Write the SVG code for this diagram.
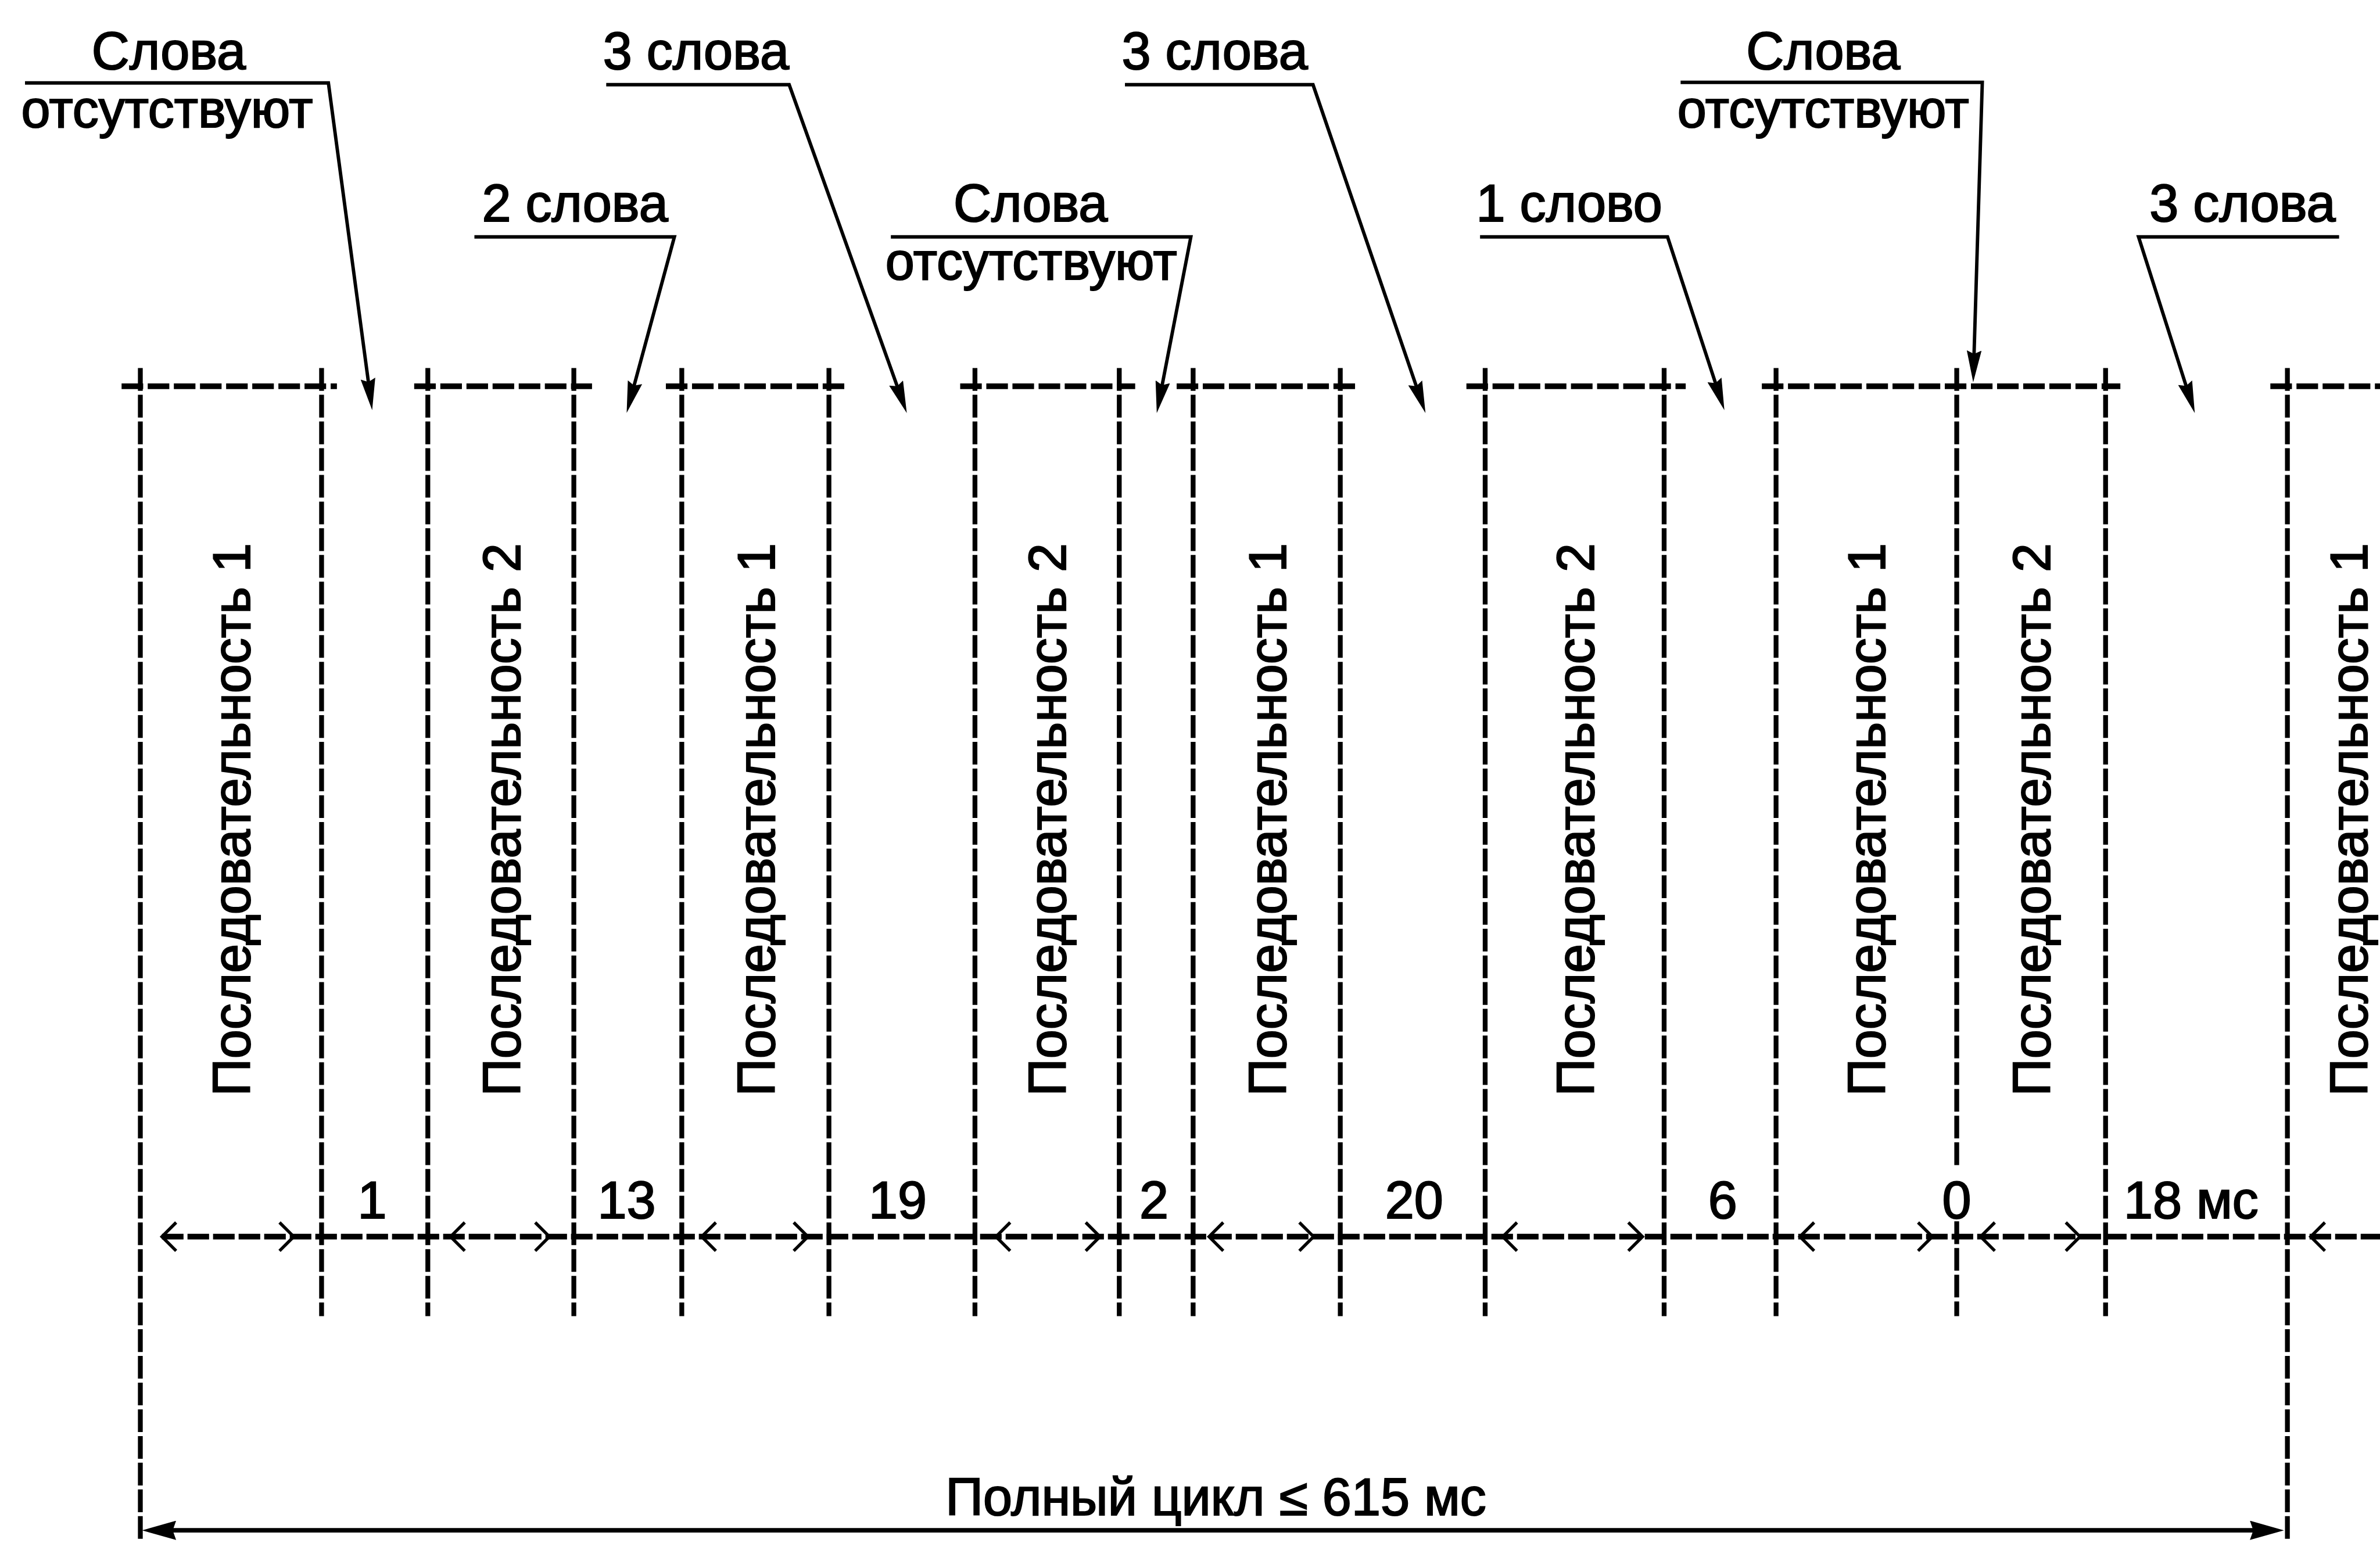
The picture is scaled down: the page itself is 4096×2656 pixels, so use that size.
<svg xmlns="http://www.w3.org/2000/svg" width="4096" height="2656" viewBox="0 0 4096 2656">
<defs>
<style>
.t{font-family:"Liberation Sans",Arial,sans-serif;font-size:92px;fill:#000;stroke:#000;stroke-width:2.2px}
.m{text-anchor:middle}
.h{stroke:#000;stroke-width:10;stroke-dasharray:38 8;fill:none}
.v{stroke:#000;stroke-width:8.5;stroke-dasharray:40 7;fill:none}
.dim{stroke:#000;stroke-width:10;stroke-dasharray:38 7;fill:none}
.chev{stroke:#000;stroke-width:5.5;fill:none;stroke-linejoin:miter}
.ld{stroke:#000;stroke-width:6;fill:none;marker-end:url(#ah)}
.full{stroke:#000;stroke-width:8;fill:none;marker-start:url(#big);marker-end:url(#big)}
</style>
<marker id="ah" viewBox="0 0 56 26" refX="36" refY="13" markerWidth="56" markerHeight="26" markerUnits="userSpaceOnUse" orient="auto">
<path d="M0,0 L56,13 L0,26 L6,13 Z" fill="#000"/>
</marker>
<marker id="big" viewBox="0 0 60 34" refX="40" refY="17" markerWidth="60" markerHeight="34" markerUnits="userSpaceOnUse" orient="auto-start-reverse">
<path d="M0,0 L60,17 L0,34 L6,17 Z" fill="#000"/>
</marker>
</defs>
<rect width="4096" height="2656" fill="#fff"/>
<g transform="scale(0.9778)">
<g id="top-rails">
<path class="h" d="M214,680H593M729,680H1042M1172,680H1487M1690,680H1998M2071,680H2391M2581,680H2967M3101,680H3732M3996,680H4189"/>
</g>
<g id="boundaries">
<path class="v" d="M247,648V2716M566,648V2317M753,648V2317M1010,648V2317M1200,648V2317M1459,648V2317M1716,648V2317M1970,648V2317M2100,648V2317M2359,648V2317M2614,648V2317M2929,648V2317M3126,648V2317M3444,648V2055M3444,2150V2317M3706,648V2317M4026,648V2716"/>
</g>
<g id="seq-1a"><text class="t m" transform="translate(440,1443) rotate(-90)">Последовательность 1</text></g>
<g id="seq-2a"><text class="t m" transform="translate(915,1443) rotate(-90)">Последовательность 2</text></g>
<g id="seq-1b"><text class="t m" transform="translate(1363,1443) rotate(-90)">Последовательность 1</text></g>
<g id="seq-2b"><text class="t m" transform="translate(1876,1443) rotate(-90)">Последовательность 2</text></g>
<g id="seq-1c"><text class="t m" transform="translate(2263,1443) rotate(-90)">Последовательность 1</text></g>
<g id="seq-2c"><text class="t m" transform="translate(2805,1443) rotate(-90)">Последовательность 2</text></g>
<g id="seq-1d"><text class="t m" transform="translate(3318,1443) rotate(-90)">Последовательность 1</text></g>
<g id="seq-2d"><text class="t m" transform="translate(3608,1443) rotate(-90)">Последовательность 2</text></g>
<g id="seq-1e"><text class="t m" transform="translate(4166,1443) rotate(-90)">Последовательность 1</text></g>
<g id="gap-labels">
<text class="t m" x="655" y="2145">1</text>
<text class="t m" x="1103" y="2145">13</text>
<text class="t m" x="1580" y="2145">19</text>
<text class="t m" x="2031" y="2145">2</text>
<text class="t m" x="2489" y="2145">20</text>
<text class="t m" x="3032" y="2145">6</text>
<text class="t m" x="3444" y="2145">0</text>
<text class="t" x="3738" y="2145">18 мс</text>
</g>
<g id="note-a">
<text class="t m" x="297" y="122">Слова</text>
<text class="t m" x="294" y="224">отсутствуют</text>
</g>
<g id="note-b"><text class="t m" x="1012" y="390">2 слова</text></g>
<g id="note-c"><text class="t m" x="1225" y="122">3 слова</text></g>
<g id="note-d">
<text class="t m" x="1814" y="390">Слова</text>
<text class="t m" x="1815" y="492">отсутствуют</text>
</g>
<g id="note-e"><text class="t m" x="2138" y="122">3 слова</text></g>
<g id="note-f"><text class="t m" x="2762" y="390">1 слово</text></g>
<g id="note-g">
<text class="t m" x="3209" y="122">Слова</text>
<text class="t m" x="3209" y="224">отсутствуют</text>
</g>
<g id="note-h"><text class="t m" x="3947" y="390">3 слова</text></g>
<g id="total"><text class="t m" x="2140" y="2667">Полный цикл ≤ 615 мс</text></g>
<g id="connectors">
<path class="ld" d="M44,146H578L652.4,702.2"/>
<path class="ld" d="M835,417H1187L1108.2,707.7"/>
<path class="ld" d="M1067,149H1389L1589.3,708.2"/>
<path class="ld" d="M1568,417H2096L2039.8,707.4"/>
<path class="ld" d="M1980,149H2311L2502.5,708.1"/>
<path class="ld" d="M2605,417H2935L3028.8,703"/>
<path class="ld" d="M2958,145H3489L3473.6,653"/>
<path class="ld" d="M4117,417H3764L3856.9,708"/>
<path class="dim" d="M285,2177H4189"/>
<path class="chev" d="M310,2152L285,2177L310,2202M492,2152L517,2177L492,2202M818,2152L793,2177L818,2202M942,2152L967,2177L942,2202M1260,2152L1235,2177L1260,2202M1397,2152L1422,2177L1397,2202M1778,2152L1753,2177L1778,2202M1911,2152L1936,2177L1911,2202M2153,2152L2128,2177L2153,2202M2287,2152L2312,2177L2287,2202M2670,2152L2645,2177L2670,2202M2866,2152L2891,2177L2866,2202M3193,2152L3168,2177L3193,2202M3376,2152L3401,2177L3376,2202M3511,2152L3486,2177L3511,2202M3636,2152L3661,2177L3636,2202M4092,2152L4067,2177L4092,2202"/>
<path class="full" d="M270,2694H4000"/>
</g>
</g>
</svg>
